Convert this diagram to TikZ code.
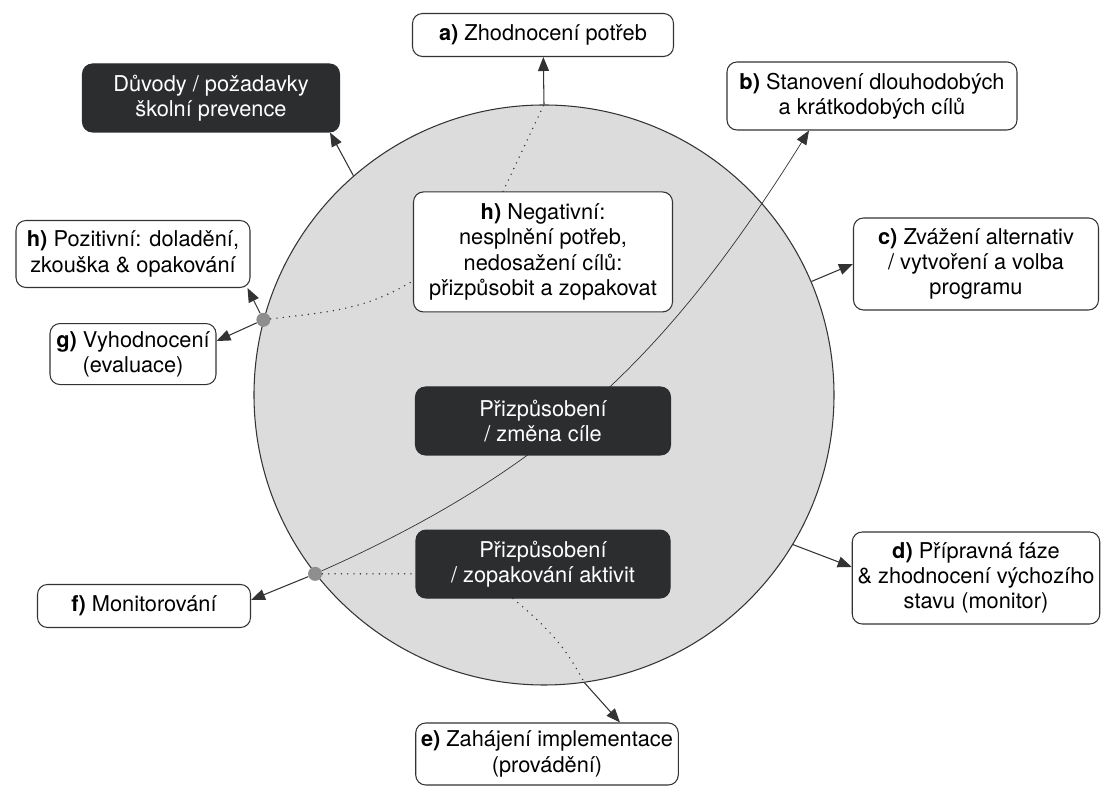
\documentclass[tikz,border=0pt]{standalone}
\usepackage{fontspec}
\setmainfont{TeX Gyre Heros}
\definecolor{boxdark}{HTML}{2B2D2F}
\definecolor{linegray}{HTML}{333333}
\definecolor{discfill}{HTML}{DCDCDC}
\definecolor{jointgray}{HTML}{8E8E8E}
\usetikzlibrary{arrows.meta,positioning}

\begin{document}
\begin{tikzpicture}[
  node distance=1.48cm,
  phase/.style={rectangle, rounded corners=0.2cm, draw=linegray, line width=0.6pt, fill=white, align=center, inner xsep=3pt, font=\fontsize{12.4}{14.4}\selectfont},
  adapt/.style={phase, draw=boxdark, fill=boxdark, text=white},
  joint/.style={circle, fill=jointgray, inner sep=0pt, minimum size=0.28cm},
  arr/.style={-{Triangle[length=0.28cm,width=0.22cm]}, line width=0.6pt, linegray},
  dotline/.style={line width=0.9pt, linegray, dash pattern=on 0pt off 3.6pt, line cap=round},
]
\useasboundingbox (0,0) rectangle (22.02,15.74);
\node[circle, draw=linegray, line width=0.6pt, fill=discfill, minimum size=11.6cm, inner sep=0pt] (kruh) at (10.88,7.84) {};
\node[joint] (horni) at (kruh.165) {};
\node[joint] (dolni) at (kruh.218) {};
\node[phase, minimum width=5.8cm, minimum height=1.36cm] (b) at (17.44,13.82) {\textbf{b)} Stanovení dlouhodobých\\a krátkodobých cílů};
\draw[arr, line width=0.4pt] (dolni) to[out=24, in=238] ([xshift=-1.26cm]b.south);
\node[adapt, minimum width=5.1cm, minimum height=1.36cm] (zmena) at (10.86,7.32) {Přizpůsobení\\/ změna cíle};
\node[phase, minimum width=5.18cm, minimum height=2.4cm, above=of zmena] (hneg) {\textbf{h)} Negativní:\\nesplnění potřeb,\\nedosažení cílů:\\přizpůsobit a zopakovat};
\node[adapt, minimum width=5.08cm, minimum height=1.36cm, below=of zmena] (zopak) {Přizpůsobení\\/ zopakování aktivit};
\node[phase, minimum width=5.22cm, minimum height=0.86cm] (a) at (10.86,15.04) {\textbf{a)} Zhodnocení potřeb};
\node[adapt, minimum width=5.14cm, minimum height=1.36cm] (duvody) at (4.22,13.78) {Důvody / požadavky\\školní prevence};
\node[phase, minimum width=4.9cm, minimum height=1.84cm] (c) at (19.52,10.46) {\textbf{c)} Zvážení alternativ\\/ vytvoření a volba\\programu};
\node[phase, minimum width=4.88cm, minimum height=1.84cm] (d) at (19.52,4.18) {\textbf{d)} Přípravná fáze\\\& zhodnocení výchozího\\stavu (monitor)};
\node[phase, minimum width=5.24cm, minimum height=1.24cm] (e) at (10.94,0.66) {\textbf{e)} Zahájení implementace\\(provádění)};
\node[phase, minimum width=4.26cm, minimum height=0.86cm] (f) at (2.88,3.62) {\textbf{f)} Monitorování};
\node[phase, minimum width=4.68cm, minimum height=1.34cm] (hpos) at (2.66,10.66) {\textbf{h)} Pozitivní: doladění,\\zkouška \& opakování};
\node[phase, minimum width=3.32cm, minimum height=1.22cm, below=0.7cm of hpos] (g) {\textbf{g)} Vyhodnocení\\(evaluace)};
\draw[dotline] (horni) to[out=7, in=211] ([yshift=-0.58cm]hneg.west);
\draw[dotline] ([xshift=-0.8cm]hneg.north) -- (kruh.90);
\draw[dotline] (dolni) -- (dolni -| zopak.west);
\draw[dotline] ([xshift=-0.6cm]zopak.south) to[out=-40, in=118] (kruh.-82);
\draw[arr] (kruh.90) -- (a);
\draw[arr] (kruh.131) -- ([xshift=-0.2cm]duvody.south east);
\draw[arr] (horni) -- ([xshift=-0.06cm]hpos.south east);
\draw[arr] (horni) -- ([yshift=0.26cm]g.east);
\draw[arr] (dolni) -- ([yshift=0.12cm]f.east);
\draw[arr] (kruh.23) -- (c.west);
\draw[arr] (kruh.-31) -- ([yshift=0.22cm]d.west);
\draw[arr] (kruh.-82) -- ([xshift=1.46cm]e.north);
\end{tikzpicture}
\end{document}
